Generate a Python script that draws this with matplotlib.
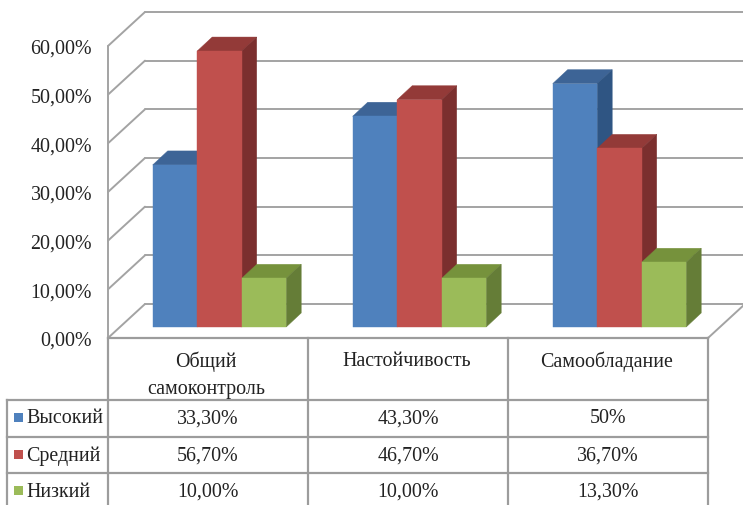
import matplotlib
matplotlib.use("Agg")
import matplotlib.pyplot as plt
from matplotlib.patches import Polygon, Rectangle

plt.rcParams["font.family"] = ["Liberation Serif", "DejaVu Serif"]

categories = ["Общий\nсамоконтроль", "Настойчивость", "Самообладание"]
series = ["Высокий", "Средний", "Низкий"]
high = [33.3, 43.3, 50.0]
mid = [56.7, 46.7, 36.7]
low = [10.0, 10.0, 13.3]
high_labels = ["33,30%", "43,30%", "50%"]
mid_labels = ["56,70%", "46,70%", "36,70%"]
low_labels = ["10,00%", "10,00%", "13,30%"]
y_ticks = [0, 10, 20, 30, 40, 50, 60]
y_tick_labels = ["0,00%", "10,00%", "20,00%", "30,00%", "40,00%", "50,00%", "60,00%"]

# front, top, side shades for each series
shades = [("#4f81bd", "#3d6496", "#2f5583"),
          ("#c0504d", "#933a38", "#7b2f2e"),
          ("#9bbb59", "#76923c", "#657d37")]
GRID = "#a3a3a3"
TABLE = "#9c9c9c"

W, H = 743, 506
X0, CAT_W = 108, 200          # pixel of category 0 left edge, pixels per category
Y0, PX_PER_PCT = 328, 4.867   # pixel of bar base, pixels per percent


def px_x(p):
    return (p - X0) / CAT_W


def px_y(p):
    return (Y0 - p) / PX_PER_PCT


fig = plt.figure(figsize=(W / 100, H / 100), dpi=100)
ax = fig.add_axes([0, 0, 1, 1])
ax.set_xlim(px_x(0), px_x(W))
ax.set_ylim(px_y(H), px_y(0))
ax.axis("off")

# wall and floor: front edge sits at x=0, back edge shifted by the chart depth
wall_dx = 37 / CAT_W
wall_dy = 34 / PX_PER_PCT
floor = px_y(339)
wall_style = dict(color=GRID, lw=1.4, solid_capstyle="round", zorder=1)
for v in y_ticks:
    ax.plot([0, wall_dx], [floor + v, floor + v + wall_dy], **wall_style)
    ax.plot([wall_dx, px_x(W)], [floor + v + wall_dy] * 2, **wall_style)
ax.plot([0, 0], [floor, floor + y_ticks[-1]], **wall_style)
ax.plot([len(categories), len(categories) + wall_dx],
        [floor, floor + wall_dy], **wall_style)

tick_nudge = 2.5 / PX_PER_PCT
for v, lab in zip(y_ticks, y_tick_labels):
    ax.text(px_x(92), floor + v - tick_nudge, lab, ha="right", va="center",
            fontsize=14.4, color="#222222")

# bars
bar_w = 44.5 / CAT_W
bar_off = 44.7 / CAT_W
dx = 15 / CAT_W
dy = 14 / PX_PER_PCT
for s, values in enumerate([high, mid, low]):
    front, top, side = shades[s]
    for c, v in enumerate(values):
        x = c + bar_off + s * bar_w
        ax.add_patch(Polygon([(x, v), (x + bar_w, v), (x + bar_w + dx, v + dy),
                              (x + dx, v + dy)], fc=top, ec=top, lw=0.3, zorder=3))
        ax.add_patch(Polygon([(x + bar_w, 0), (x + bar_w + dx, dy),
                              (x + bar_w + dx, v + dy), (x + bar_w, v)],
                             fc=side, ec=side, lw=0.3, zorder=3))
        ax.add_patch(Rectangle((x, 0), bar_w, v, fc=front, ec=front, lw=0.3, zorder=3))

# data table
rows_px = [339, 401, 437.7, 474.3]
cols = range(len(categories) + 1)
table_style = dict(color=TABLE, lw=1.6, zorder=2, clip_on=True)
ax.plot([0, len(categories)], [px_y(rows_px[0])] * 2, **table_style)
for p in rows_px[1:]:
    ax.plot([px_x(7), len(categories)], [px_y(p)] * 2, **table_style)
for c in cols:
    ax.plot([c, c], [px_y(339), px_y(H)], **table_style)
ax.plot([px_x(7)] * 2, [px_y(401), px_y(H)], **table_style)

head_nudge = [-2 / CAT_W, -1.5 / CAT_W, -1 / CAT_W]
for c, name in enumerate(categories):
    for i, line in enumerate(name.split("\n")):
        ax.text(c + 0.5 + head_nudge[c], px_y(362 + 28 * i), line,
                ha="center", va="center", fontsize=14.4, color="#222222")

row_y = [419, 456, 492.5]
for r, (name, labels) in enumerate(zip(series, [high_labels, mid_labels, low_labels])):
    ax.add_patch(Rectangle((px_x(13.5), px_y(row_y[r] + 3.5)), 9 / CAT_W, 9 / PX_PER_PCT,
                           fc=shades[r][0], ec="none", zorder=3))
    ax.text(px_x(26.5), px_y(row_y[r]), name, ha="left", va="center", fontsize=14.4,
            color="#222222")
    for c, lab in enumerate(labels):
        ax.text(c + 0.5, px_y(row_y[r]), lab, ha="center", va="center", fontsize=14.4,
                color="#222222")

fig.savefig("out.png", dpi=100)
plt.close(fig)
